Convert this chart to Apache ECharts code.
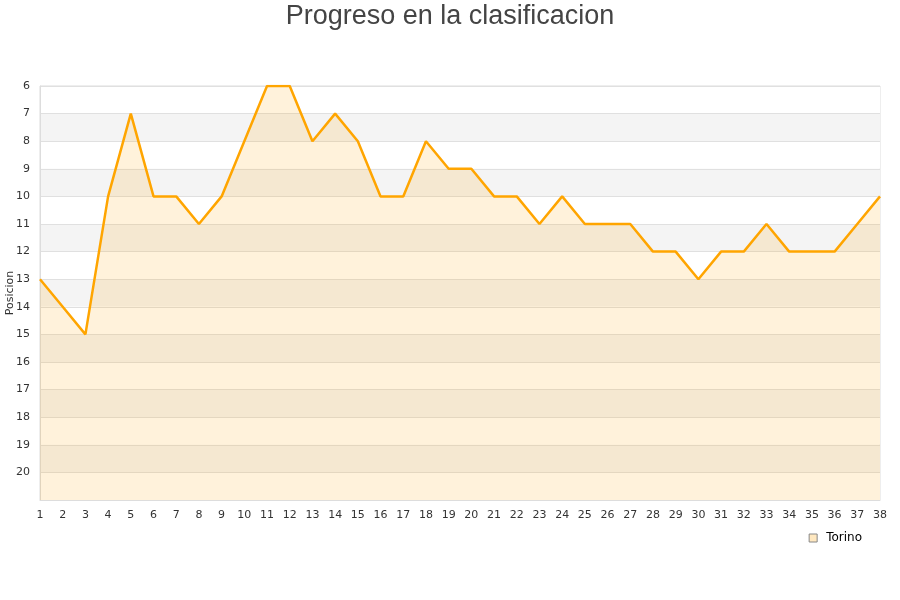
<!DOCTYPE html>
<html>
<head>
<meta charset="utf-8">
<script src="https://cdn.jsdelivr.net/npm/echarts@6/dist/echarts.min.js"></script>
<style>
  html, body { margin: 0; padding: 0; background: #fff; }
  #chart { width: 900px; height: 600px; }
</style>
</head>
<body>
<div id="chart"></div>
<script>
// jornadas 1..38
var jornadas = ['1', '2', '3', '4', '5', '6', '7', '8', '9', '10', '11', '12', '13', '14', '15', '16', '17', '18', '19',
    '20', '21', '22', '23', '24', '25', '26', '27', '28', '29', '30', '31', '32', '33', '34', '35', '36', '37', '38'];

// posicion del Torino en cada jornada
var torino = [13, 14, 15, 10, 7, 10, 10, 11, 10, 8, 6, 6, 8, 7, 8, 10, 10, 8, 9, 9,
    10, 10, 11, 10, 11, 11, 11, 12, 12, 13, 12, 12, 11, 12, 12, 12, 11, 10];

var posMin = 6;
var posMax = 21;

var dom = document.getElementById('chart');
var myChart = echarts.init(dom, null, {renderer: 'canvas'});
var option = {
    animation: false,
    title: {
        text: 'Progreso en la clasificacion',
        left: 'center',
        top: -2,
        textStyle: {
            fontFamily: 'Liberation Sans',
            fontSize: 27,
            fontWeight: 'normal',
            color: '#444'
        }
    },
    legend: {
        right: 33,
        top: 527,
        itemWidth: 8,
        itemHeight: 8,
        icon: 'rect',
        textStyle: {
            fontFamily: 'DejaVu Sans',
            fontSize: 12,
            color: '#000',
            padding: [0, 0, 0, 4]
        },
        data: [{
            name: 'Torino',
            itemStyle: {color: '#ffe8c0', borderColor: '#888', borderWidth: 1}
        }]
    },
    grid: {
        left: 40,
        right: 20,
        top: 86,
        bottom: 100,
        show: true,
        borderColor: '#ddd',
        borderWidth: 1,
        containLabel: false,
        outerBoundsMode: 'none'
    },
    xAxis: {
        type: 'category',
        data: jornadas,
        boundaryGap: false,
        axisLine: {lineStyle: {color: '#ddd'}},
        axisTick: {show: false},
        axisLabel: {
            interval: 0,
            margin: 10,
            fontFamily: 'DejaVu Sans',
            fontSize: 11,
            color: '#333'
        },
        splitLine: {show: false}
    },
    yAxis: {
        type: 'value',
        inverse: true,
        min: posMin,
        max: posMax,
        interval: 1,
        name: 'Posicion',
        nameLocation: 'middle',
        nameRotate: 90,
        nameGap: 24,
        nameMoveOverlap: false,
        nameTextStyle: {
            fontFamily: 'DejaVu Sans',
            fontSize: 11,
            color: '#333'
        },
        axisLine: {show: true, lineStyle: {color: '#ddd'}},
        axisTick: {show: false},
        axisLabel: {
            margin: 10,
            fontFamily: 'DejaVu Sans',
            fontSize: 11,
            color: '#333',
            formatter: function (v) {
                return v === posMax ? '' : v;
            }
        },
        splitLine: {show: true, lineStyle: {color: '#e0e0e0'}},
        splitArea: {show: true, areaStyle: {color: ['#ffffff', '#f4f4f4']}}
    },
    series: [{
        name: 'Torino',
        type: 'line',
        data: torino,
        symbol: 'none',
        lineStyle: {color: '#ffa500', width: 2.5},
        itemStyle: {color: '#ffa500'},
        areaStyle: {origin: 'end', color: 'rgba(255,165,0,0.2)'}
    }]
};
myChart.setOption(option, true);
</script>
</body>
</html>
